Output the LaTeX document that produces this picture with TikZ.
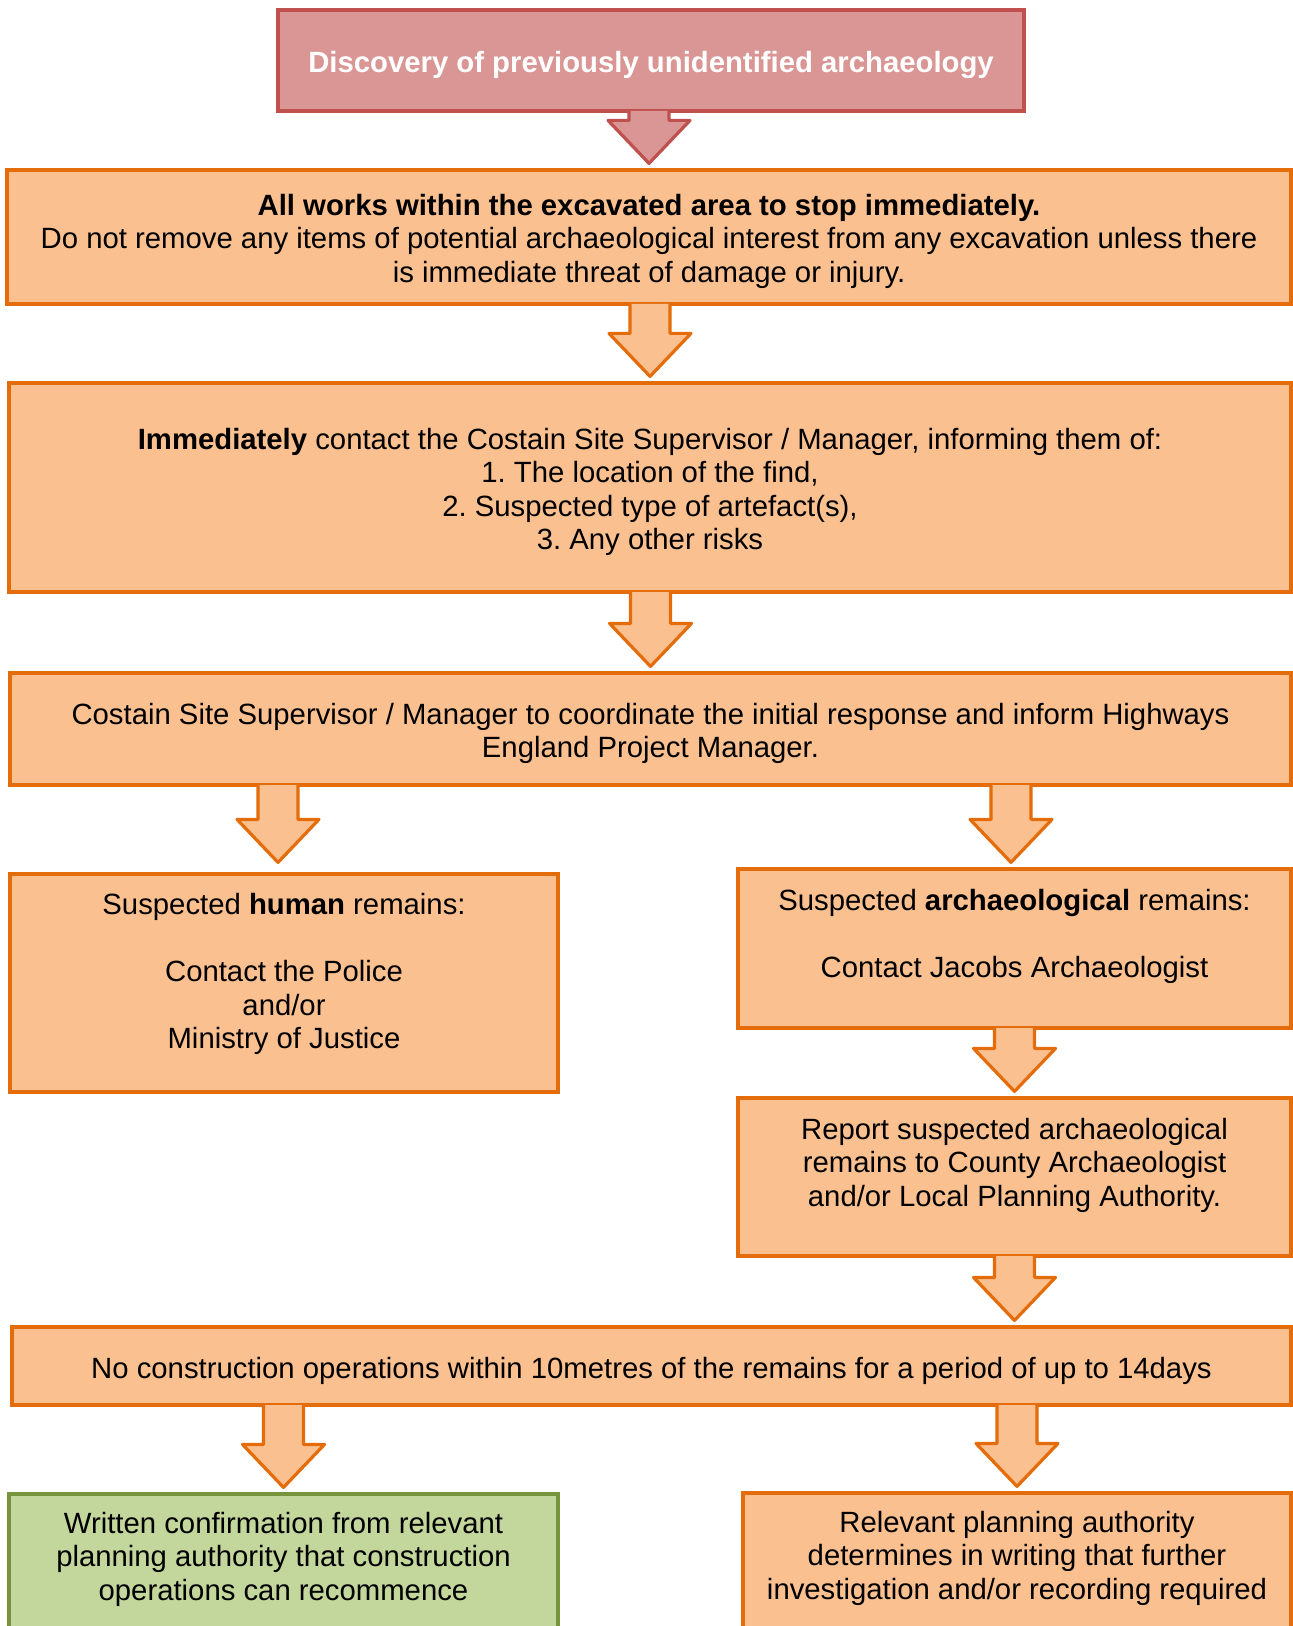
\documentclass[tikz,border=0pt]{standalone}
\usepackage{fontspec}
\setmainfont{Liberation Sans}
\frenchspacing
\usetikzlibrary{calc}

\definecolor{boxfill}{RGB}{250,192,144}
\definecolor{boxline}{RGB}{228,108,10}
\definecolor{startfill}{RGB}{217,150,148}
\definecolor{startline}{RGB}{192,80,77}
\definecolor{endfill}{RGB}{195,214,155}
\definecolor{endline}{RGB}{119,147,60}

\newcommand{\boxtext}[2][-5.3pt]{\begin{tabular}{@{}c@{}}#2\\[#1]\end{tabular}}
\newcommand{\flowarrow}[3][]{%
	\path[flowarr,#1] let \p1=#2, \p2=#3 in
	({\x2-10pt},{\y1+0.8pt}) -- ({\x2-10pt},{\y2+24pt}) -- ({\x2-20.5pt},{\y2+24pt})
	-- ({\x2},{\y2+2.5pt}) -- ({\x2+20.5pt},{\y2+24pt}) -- ({\x2+10pt},{\y2+24pt})
	-- ({\x2+10pt},{\y1+0.8pt});}

\begin{document}
\begin{tikzpicture}[x=0.5pt,y=-0.5pt,
	box/.style={draw=boxline,fill=boxfill,line width=1.6pt,align=center,inner sep=0pt,font=\fontsize{14.65}{16.75}\selectfont},
	startbox/.style={box,draw=startline,fill=startfill,text=white,font=\fontsize{14.65}{16.75}\selectfont\bfseries},
	endbox/.style={box,draw=endline,fill=endfill},
	flowarr/.style={draw=boxline,fill=boxfill,line width=1.6pt,line join=round}]
	\useasboundingbox (0,0) rectangle (1293,1626);

	\node[startbox,minimum width=373pt,minimum height=50.5pt] (discovery) at (651,60.5)
	{\boxtext{Discovery of previously unidentified archaeology}};
	\node[box,minimum width=642pt,minimum height=67pt] (stopworks) at (649,237)
	{\boxtext{\textbf{All works within the excavated area to stop immediately.}\\
		Do not remove any items of potential archaeological interest from any excavation unless there\\
		is immediate threat of damage or injury.}};
	\node[box,minimum width=641pt,minimum height=104.5pt] (contact) at (650,487.5)
	{\boxtext{\textbf{Immediately} contact the Costain Site Supervisor / Manager, informing them of:\\
		1. The location of the find,\\
		2. Suspected type of artefact(s),\\
		3. Any other risks}};
	\node[box,minimum width=640.5pt,minimum height=56pt] (respond) at (650.5,729)
	{\boxtext{Costain Site Supervisor / Manager to coordinate the initial response and inform Highways\\
		England Project Manager.}};
	\node[box,minimum width=274pt,minimum height=109pt] (human) at (284,983)
	{\boxtext[8.2pt]{Suspected \textbf{human} remains:\\ \\ Contact the Police\\ and/or\\ Ministry of Justice}};
	\node[box,minimum width=276.5pt,minimum height=79.5pt] (archaeo) at (1014.5,948.5)
	{\boxtext[11.7pt]{Suspected \textbf{archaeological} remains:\\ \\ Contact Jacobs Archaeologist}};
	\node[box,minimum width=276.5pt,minimum height=79pt] (report) at (1014.5,1177)
	{\boxtext[11.2pt]{Report suspected archaeological\\ remains to County Archaeologist\\ and/or Local Planning Authority.}};
	\node[box,minimum width=639.5pt,minimum height=39pt] (nowork) at (651.5,1366)
	{\boxtext{No construction operations within 10metres of the remains for a period of up to 14days}};
	\node[endbox,minimum width=274.5pt,minimum height=78pt] (recommence) at (283.5,1572)
	{\boxtext[12.2pt]{Written confirmation from relevant\\ planning authority that construction\\ operations can recommence}};
	\node[box,minimum width=274pt,minimum height=78.5pt] (further) at (1017,1571.5)
	{\boxtext[12.7pt]{Relevant planning authority\\ determines in writing that further\\ investigation and/or recording required}};

	\flowarrow[draw=startline,fill=startfill]{(discovery.south)}{(stopworks.north)}
	\flowarrow{(stopworks.south)}{(contact.north)}
	\flowarrow{(contact.south)}{(respond.north)}
	\flowarrow{(respond.south -| human)}{([xshift=-3pt,yshift=2.5pt]human.north)}
	\flowarrow{(respond.south -| archaeo)}{([xshift=-1.75pt]archaeo.north)}
	\flowarrow{(archaeo.south)}{(report.north)}
	\flowarrow{(report.south)}{(nowork.north -| report)}
	\flowarrow{(nowork.south -| recommence)}{(recommence.north)}
	\flowarrow{(nowork.south -| further)}{(further.north)}
\end{tikzpicture}
\end{document}
